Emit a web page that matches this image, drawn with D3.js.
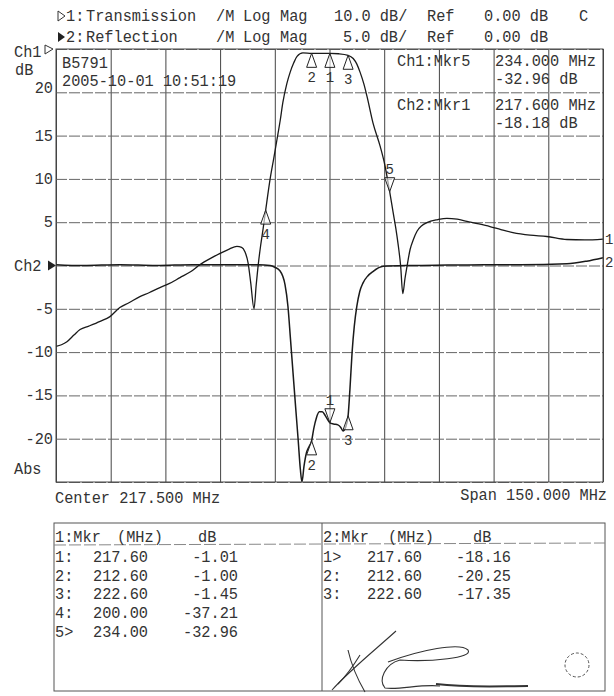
<!DOCTYPE html>
<html><head><meta charset="utf-8">
<script src="https://cdn.jsdelivr.net/npm/d3@7/dist/d3.min.js"></script>
<style>
html,body{margin:0;padding:0;background:#fff;}
text{font-family:"Liberation Mono","DejaVu Sans Mono",monospace;fill:#333;}
</style></head>
<body><svg id="c" width="614" height="696"></svg>
<script>
// ---------- data ----------
const transFreq = [142.5,144.0,145.5,147.5,149.1,151.5,154.6,157.3,160.0,162.5,165.5,168.0,171.0,173.5,176.5,179.5,182.0,185.0,187.5,190.0,192.1,193.4,194.3,195.2,195.9,196.8,197.4,198.0,198.6,199.3,200.0,201.2,202.2,203.1,204.0,204.7,205.8,206.7,207.7,208.6,210.2,212.6,215.0,217.6,220.0,222.6,224.0,225.0,225.9,226.9,227.8,229.4,231.4,232.6,234.0,234.9,235.7,236.3,237.0,237.6,238.2,238.7,239.6,240.5,241.5,242.8,244.2,247.2,249.7,252.5,255.2,258.5,261.5,264.5,267.8,272.5,277.1,282.6,287.5,292.5];
const transmission = [-68.7,-68.3,-67.6,-66.0,-64.8,-64.0,-62.9,-61.8,-59.7,-58.6,-57.2,-56.3,-55.1,-54.2,-52.8,-51.4,-49.8,-48.3,-47.2,-46.2,-45.6,-45.8,-46.8,-49.5,-54.0,-60.0,-54.5,-49.5,-45.5,-41.5,-37.21,-30.1,-25.3,-20.9,-16.4,-12.4,-8.0,-5.4,-3.2,-1.7,-0.9,-1.00,-1.0,-1.01,-1.1,-1.45,-2.2,-3.5,-5.4,-8.0,-11.0,-17.0,-22.5,-26.5,-32.96,-37.5,-41.5,-45.0,-50.0,-56.5,-53.0,-50.5,-46.3,-44.0,-42.1,-40.8,-40.1,-39.4,-39.1,-39.3,-39.8,-40.4,-41.0,-41.7,-42.4,-43.0,-43.3,-44.0,-44.1,-43.9];

const reflFreq = [142.5,150,160,170,180,190,198,201.2,202.5,203.9,205.3,206.1,206.8,207.5,208.2,208.9,209.5,209.95,210.5,211.2,211.9,212.6,213.2,213.9,214.7,215.5,216.3,217.0,217.6,218.6,219.8,220.6,221.2,221.9,222.6,223.1,223.7,224.3,225.0,225.8,226.7,228.0,229.4,232.2,240,250,260,270,282.6,288,292.5];
const reflection = [0.1,0.0,0.1,0.0,0.1,0.1,0.1,0.0,-0.2,-0.6,-2.2,-4.7,-8.5,-12.4,-16.3,-20.1,-23.5,-25.0,-23.2,-21.6,-20.9,-20.25,-18.8,-17.6,-16.9,-16.9,-17.3,-17.8,-18.16,-18.3,-18.4,-18.7,-19.1,-18.7,-17.35,-14.3,-10.0,-7.0,-4.7,-3.0,-2.0,-1.2,-0.7,-0.1,0.0,0.05,0.1,0.1,0.2,0.5,0.9];

const ch1MkrIds  = ["1","2","3","4","5"];
const ch1MkrFreq = [217.60,212.60,222.60,200.00,234.00];
const ch1MkrDb   = [-1.01,-1.00,-1.45,-37.21,-32.96];
const ch1MkrDir  = ["up","up","up","up","down"];
const ch1MkrTag  = ["1:","2:","3:","4:","5>"];

const ch2MkrIds  = ["1","2","3"];
const ch2MkrFreq = [217.60,212.60,222.60];
const ch2MkrDb   = [-18.16,-20.25,-17.35];
const ch2MkrDir  = ["down","up","up"];
const ch2MkrTag  = ["1>","2:","3:"];

const centerMHz = 217.5, spanMHz = 150;
const ch2TickLabels = [20,15,10,5,-5,-10,-15,-20];

// ---------- layout ----------
const svg = d3.select("#c");
const L=56, R=603, T=49, B=482;
const x = d3.scaleLinear().domain([centerMHz-spanMHz/2, centerMHz+spanMHz/2]).range([L,R]);
const y1 = d3.scaleLinear().domain([-100,0]).range([B,T]);
const y2 = d3.scaleLinear().domain([-25,25]).range([B,T]);
const FS = 15.3;

svg.append("rect").attr("width",614).attr("height",696).attr("fill","#fff");

// grid
const xGrid = d3.range(0,11).map(i=>x.domain()[0]+i*spanMHz/10);
const yGrid = d3.range(0,11).map(i=>-25+i*5);
svg.append("g").attr("transform",`translate(0,${B})`)
  .call(d3.axisBottom(x).tickValues(xGrid).tickSize(-(B-T)).tickFormat(""))
  .call(g=>g.select(".domain").remove())
  .call(g=>g.selectAll("line").attr("stroke","#444").attr("stroke-width",1));
svg.append("g").attr("transform",`translate(${L},0)`)
  .call(d3.axisLeft(y2).tickValues(yGrid).tickSize(-(R-L)).tickFormat(""))
  .call(g=>g.select(".domain").remove())
  .call(g=>g.selectAll("line").attr("stroke","#666").attr("stroke-width",1).attr("stroke-dasharray","11 2"));

function txt(s,xx,yy,opt={}){
  const t = svg.append("text").attr("transform",`translate(${xx},${yy}) scale(1,1.06)`).attr("font-size",opt.fs||FS).text(s);
  if(opt.anchor) t.attr("text-anchor",opt.anchor);
  return t;
}

// left labels (Ch2 scale)
ch2TickLabels.forEach(v=>{
  txt(String(v),53,y2(v)+5+(v===20?-4:0),{anchor:"end"});
});

// Ch1 / Ch2 reference indicators
txt("Ch1",14,57);
svg.append("path").attr("d",`M45,45 L53,${T} L45,54 Z`).attr("fill","none").attr("stroke","#333").attr("stroke-width",1);
txt("dB",15,75);
txt("Ch2",14,y2(0)+5);
svg.append("path").attr("d",`M48,${y2(0)-5} L56,${y2(0)} L48,${y2(0)+5} Z`).attr("fill","#222");
txt("Abs",14,474);

// header
txt("1:",66,21); svg.append("path").attr("d","M58,11 L65,16 L58,21 Z").attr("fill","none").attr("stroke","#333");
txt("Transmission",86,21);
txt("2:",66,42); svg.append("path").attr("d","M58,32 L65,37 L58,42 Z").attr("fill","#222");
txt("Reflection",86,42);
[["/M",216],["Log",243],["Mag",280]].forEach(([s,xx])=>{txt(s,xx,21);txt(s,xx,42);});
txt("10.0 dB/",334,21); txt("5.0 dB/",343,42);
txt("Ref",427,21); txt("Ref",427,42);
txt("0.00 dB",484,21); txt("0.00 dB",484,42);
txt("C",579,21);

// info texts inside grid
txt("B5791",62,68);
txt("2005-10-01 10:51:19",62,86);
txt("Ch1:Mkr5",397,66);
txt(ch1MkrFreq[4].toFixed(3)+" MHz",495,66);
txt(ch1MkrDb[4].toFixed(2)+" dB",495,84);
txt("Ch2:Mkr1",397,110);
txt("217.600 MHz",495,110);
txt("-18.18 dB",495,128);

// traces
const line1 = d3.line().x(d=>x(d[0])).y(d=>y1(d[1])).curve(d3.curveMonotoneX);
const line2 = d3.line().x(d=>x(d[0])).y(d=>y2(d[1])).curve(d3.curveMonotoneX);
svg.append("path").attr("d",line1(d3.zip(transFreq,transmission))).attr("fill","none").attr("stroke","#1a1a1a").attr("stroke-width",1.3);
svg.append("path").attr("d",line2(d3.zip(reflFreq,reflection))).attr("fill","none").attr("stroke","#1a1a1a").attr("stroke-width",1.5);

// trace end labels
txt("1",R+2,y1(transmission[transmission.length-1])+5,{fs:14});
txt("2",R+2,y2(reflection[reflection.length-1])+9,{fs:14});

// markers
function marker(px,py,dir,id){
  const h=14,w=5;
  if(dir==="up"){
    svg.append("path").attr("d",`M${px},${py} L${px-w},${py+h} L${px+w},${py+h} Z`).attr("fill","#fff").attr("fill-opacity",0.6).attr("stroke","#222").attr("stroke-width",1);
    txt(id,px,py+h+15,{fs:14,anchor:"middle"});
  } else {
    svg.append("path").attr("d",`M${px},${py} L${px-w},${py-h} L${px+w},${py-h} Z`).attr("fill","#fff").attr("fill-opacity",0.6).attr("stroke","#222").attr("stroke-width",1);
    txt(id,px,py-h-4,{fs:14,anchor:"middle"});
  }
}
ch1MkrFreq.forEach((f,i)=>marker(x(f),y1(ch1MkrDb[i]),ch1MkrDir[i],ch1MkrIds[i]));
ch2MkrFreq.forEach((f,i)=>marker(x(f),y2(ch2MkrDb[i]),ch2MkrDir[i],ch2MkrIds[i]));

// frame
svg.append("rect").attr("x",L).attr("y",T).attr("width",R-L).attr("height",B-T).attr("fill","none").attr("stroke","#444").attr("stroke-width",1);

// footer
txt("Center "+centerMHz.toFixed(3)+" MHz",55,503);
txt("Span "+spanMHz.toFixed(3)+" MHz",607,500,{anchor:"end"});

// marker tables
svg.append("rect").attr("x",54).attr("y",523).attr("width",551).attr("height",168).attr("fill","none").attr("stroke","#555");
svg.append("line").attr("x1",322).attr("x2",322).attr("y1",523).attr("y2",691).attr("stroke","#555");
svg.append("line").attr("x1",54).attr("x2",605).attr("y1",545).attr("y2",543).attr("stroke","#888").attr("stroke-dasharray","12 3");
txt("1:Mkr",55,542); txt("(MHz)",117,542); txt("dB",198,542);
txt("2:Mkr",323,542); txt("(MHz)",388,542); txt("dB",473,542);
const rowY = [562,581,599,618,637];
ch1MkrFreq.forEach((f,i)=>{
  txt(ch1MkrTag[i],55,rowY[i]);
  txt(f.toFixed(2),93,rowY[i]);
  txt(ch1MkrDb[i].toFixed(2),238,rowY[i],{anchor:"end"});
});
ch2MkrFreq.forEach((f,i)=>{
  txt(ch2MkrTag[i],323,rowY[i]);
  txt(f.toFixed(2),367,rowY[i]);
  txt(ch2MkrDb[i].toFixed(2),511,rowY[i],{anchor:"end"});
});

// signature & stamp (decoration)
const sig = svg.append("g").attr("fill","none").attr("stroke","#333").attr("stroke-width",1.1);
sig.append("path").attr("d","M332,690 C350,670 375,650 396,631");
sig.append("path").attr("d","M348,650 C352,668 358,680 365,692");
sig.append("path").attr("d","M360,655 C352,668 346,676 338,684");
sig.append("path").attr("d","M388,662 C420,650 460,642 468,650 C474,658 430,662 400,660 C385,664 378,680 385,688 C400,690 420,684 440,686");
sig.append("path").attr("d","M436,684 C470,688 500,686 528,686").attr("stroke-width",2);
svg.append("circle").attr("cx",577).attr("cy",665).attr("r",12).attr("fill","none").attr("stroke","#555").attr("stroke-dasharray","3 2");
</script></body></html>
